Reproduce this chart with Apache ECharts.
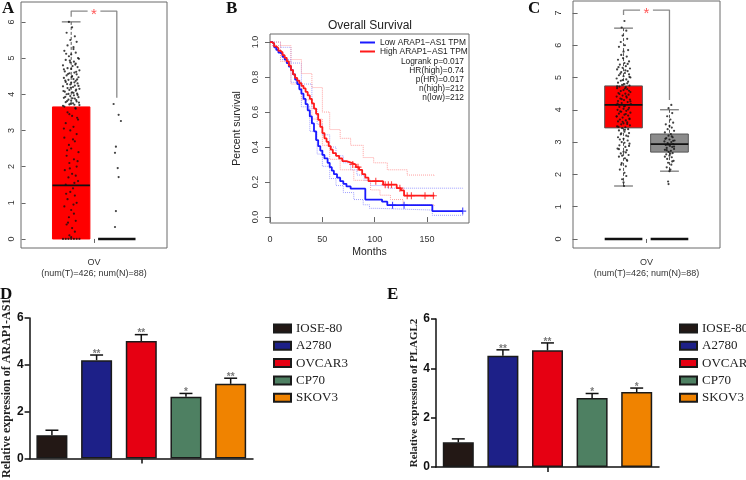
<!DOCTYPE html>
<html><head><meta charset="utf-8">
<script src="https://cdn.jsdelivr.net/npm/echarts@6/dist/echarts.min.js"></script>
<style>html,body{margin:0;padding:0;background:#fff}#c{width:746px;height:480px}</style>
</head><body><div id="c"></div>
<script>
// ---------------- Panel A data ----------------
const aGroups = [1, 2];
// [position, q1, median, q3, whiskerLow, whiskerHigh]
const aBoxes = [[1, 0, 1.48, 3.65, 0, 6.0], [2, 0, 0, 0, 0, 0]];
const aYTicks = [0, 1, 2, 3, 4, 5, 6];
// [jitter offset, value]
const aTumorPts = [[-0.05,6.0],[0.02,5.85],[-0.1,5.7],[0.08,5.6],[-0.02,5.5],[0.12,5.45],[-0.08,5.35],[0.05,5.3],[-0.15,5.2],[0.1,5.15],[0.0,5.1],[-0.05,5.05],[0.15,5.0],[-0.12,4.95],[0.06,4.9],[-0.02,4.88],[0.1,4.85],[-0.18,4.8],[0.03,4.78],[0.14,4.75],[-0.08,4.72],[0.0,4.7],[0.18,4.66],[-0.14,4.63],[0.07,4.6],[-0.04,4.58],[0.12,4.55],[-0.1,4.52],[0.02,4.5],[0.16,4.47],[-0.16,4.45],[0.05,4.42],[-0.06,4.4],[0.1,4.37],[-0.12,4.34],[0.0,4.32],[0.14,4.3],[-0.02,4.27],[0.08,4.24],[-0.18,4.22],[0.04,4.2],[-0.08,4.17],[0.18,4.15],[-0.04,4.12],[0.1,4.1],[-0.14,4.07],[0.02,4.05],[0.13,4.02],[-0.1,4.0],[0.06,3.97],[-0.02,3.95],[0.16,3.92],[-0.16,3.9],[0.08,3.88],[-0.06,3.85],[0.0,3.82],[0.12,3.8],[-0.12,3.78],[0.04,3.75],[-0.04,3.72],[0.18,3.7],[-0.18,3.68],
  [0.05,5.25],[-0.11,5.12],[0.17,4.98],[-0.03,4.93],[0.09,4.82],[-0.16,4.69],[0.11,4.62],[-0.07,4.56],[0.01,4.48],[0.13,4.41],[-0.13,4.38],[0.07,4.33],[-0.09,4.28],[0.16,4.23],[-0.01,4.18],[0.11,4.13],[-0.17,4.09],[0.05,4.04],[-0.06,4.01],[0.14,3.98],[-0.13,3.93],[0.03,3.89],[0.11,3.84],[-0.09,3.81],[0.17,3.77],[-0.01,3.74],[0.07,3.71],[-0.15,3.66],[0.09,3.62],
  [0.1,3.6],[-0.08,3.5],[0.02,3.4],[0.15,3.3],[-0.12,3.2],[0.05,3.1],[-0.02,3.0],[0.12,2.9],[-0.15,2.8],[0.08,2.7],[-0.05,2.6],[0.0,2.5],[0.16,2.4],[-0.1,2.3],[0.06,2.2],[-0.04,2.1],[0.12,2.0],[-0.14,1.9],[0.02,1.8],[0.1,1.75],[-0.06,1.7],[0.15,1.6],[-0.12,1.5],[0.04,1.4],[-0.02,1.3],[0.08,1.2],[-0.08,1.1],[0.12,1.0],[-0.15,0.9],[0.0,0.8],[0.06,0.7],[-0.05,0.6],[0.1,0.5],[-0.1,0.4],[0.02,0.3],[0.08,0.2],[-0.04,0.1],[0.0,0.05],
  [-0.04,3.45],[0.13,3.35],[-0.16,3.05],[0.04,2.75],[-0.09,2.45],[0.14,2.15],[-0.03,1.95],[0.07,1.55],[-0.11,1.25],[0.05,0.95],[-0.07,0.45],
  [-0.18,0],[-0.12,0],[-0.06,0],[0,0],[0.06,0],[0.12,0],[0.18,0]];
const aNormalPts = [[-0.07,3.73],[0.04,3.43],[0.09,3.26],[-0.02,2.55],[-0.04,2.38],[0.02,1.96],[0.04,1.71],[-0.02,0.77],[-0.04,0.33]];
const aBracketL = [[1,6.14],[1,6.3],[1.36,6.3]];
const aBracketR = [[1.64,6.3],[2,6.3],[2,3.9]];
const aStar = [[1.5,6.3]];
const boxXLabel = 'OV\n(num(T)=426; num(N)=88)';

// ---------------- Panel B data ----------------
const bMonthTicks = [0, 50, 100, 150];
const bSurvTicks = [0, 0.2, 0.4, 0.6, 0.8, 1.0];
const bLegendNames = ['Low ARAP1\u2212AS1 TPM', 'High ARAP1\u2212AS1 TPM'];
const bStats = ['Logrank p=0.017', 'HR(high)=0.74', 'p(HR)=0.017', 'n(high)=212', 'n(low)=212'];
const bHigh = [[0,1],[2,0.99],[4,0.975],[6,0.965],[8,0.95],[10,0.94],[12,0.925],[14,0.91],[16,0.89],[18,0.865],[20,0.84],[22,0.815],[24,0.795],[26,0.78],[28,0.765],[30,0.75],[32,0.735],[34,0.715],[36,0.695],[38,0.675],[40,0.65],[42,0.62],[44,0.59],[46,0.555],[48,0.515],[50,0.48],[52,0.45],[54,0.43],[56,0.405],[58,0.385],[60,0.365],[63,0.35],[66,0.335],[69,0.32],[73,0.31],[78,0.3],[82,0.285],[85,0.27],[88,0.245],[91,0.225],[94,0.205],[108,0.185],[121,0.165],[125,0.152],[128,0.122],[157,0.122]];
const bLow = [[0,1],[2,0.99],[4,0.97],[6,0.955],[8,0.94],[10,0.93],[12,0.915],[14,0.9],[16,0.88],[18,0.86],[20,0.84],[22,0.815],[24,0.785],[26,0.76],[28,0.73],[30,0.705],[32,0.675],[34,0.645],[36,0.61],[38,0.575],[40,0.535],[42,0.49],[44,0.44],[46,0.405],[48,0.38],[50,0.355],[52,0.335],[55,0.31],[57,0.285],[59,0.265],[61,0.245],[64,0.225],[67,0.205],[70,0.19],[73,0.175],[77,0.162],[91,0.1],[107,0.088],[112,0.068],[155,0.034],[184,0.034]];
const bHighUp = [[0,1],[10,0.98],[20,0.9],[30,0.82],[40,0.74],[50,0.6],[57,0.5],[67,0.45],[77,0.41],[89,0.34],[99,0.31],[112,0.27],[131,0.24],[157,0.235]];
const bHighLo = [[0,0.98],[10,0.89],[20,0.76],[30,0.67],[40,0.56],[50,0.41],[57,0.33],[67,0.27],[80,0.21],[96,0.155],[105,0.125],[115,0.1],[127,0.07],[157,0.065]];
const bLowUp = [[0,1],[10,0.97],[20,0.88],[30,0.76],[40,0.62],[45,0.53],[50,0.47],[57,0.4],[63,0.35],[70,0.31],[77,0.27],[83,0.24],[90,0.21],[96,0.18],[112,0.165],[184,0.16]];
const bLowLo = [[0,0.98],[10,0.9],[20,0.77],[30,0.63],[38,0.49],[45,0.36],[50,0.29],[57,0.22],[63,0.18],[70,0.14],[80,0.1],[89,0.07],[95,0.05],[102,0.04],[155,0.01],[184,0.003]];
const bHighCens = [[79,0.3],[84,0.285],[101,0.205],[110,0.185],[113,0.185],[116,0.185],[124,0.165],[131,0.122],[135,0.122],[148,0.122],[156,0.122]];
const bLowCens = [[117,0.068],[128,0.068],[184,0.034]];

// ---------------- Panel C data ----------------
const cBoxes = [[1, 3.44, 4.15, 4.74, 1.64, 6.53], [2, 2.69, 2.94, 3.25, 2.1, 4.0]];
const cYTicks = [0, 1, 2, 3, 4, 5, 6, 7];
const cZero = [[1, 0], [2, 0]];
const cTumorPts = [[0.02,6.75],[-0.04,6.55],[0.06,6.45],[-0.02,6.3],[0.08,6.2],[-0.06,6.1],[0.03,6.0],[-0.1,5.95],[0.1,5.85],[0.0,5.8],[-0.05,5.7],[0.07,5.65],[-0.12,5.55],[0.12,5.5],[0.02,5.45],[-0.08,5.4],[0.05,5.35],[-0.02,5.3],[0.14,5.28],[-0.14,5.25],[0.09,5.2],[-0.05,5.17],[0.03,5.14],[0.12,5.1],[-0.1,5.07],[0.0,5.04],[0.15,5.0],[-0.15,4.97],[0.06,4.94],[-0.06,4.9],[0.1,4.87],[-0.12,4.84],[0.02,4.8],[-0.03,4.77],[0.13,4.75],[-0.09,4.72],[0.05,4.7],[-0.14,4.67],[0.08,4.64],[0.0,4.61],[-0.06,4.58],[0.15,4.55],[-0.11,4.52],[0.04,4.5],[0.11,4.47],[-0.02,4.44],[-0.15,4.41],[0.07,4.38],[-0.07,4.35],[0.14,4.32],[0.01,4.3],[-0.12,4.27],[0.09,4.24],[-0.04,4.21],[0.16,4.18],[-0.16,4.15],[0.03,4.12],[-0.09,4.09],[0.12,4.06],[0.0,4.03],[-0.13,4.0],[0.06,3.97],[-0.05,3.94],[0.15,3.91],[-0.1,3.88],[0.02,3.85],[0.1,3.82],[-0.15,3.79],[-0.02,3.76],[0.13,3.73],[-0.08,3.7],[0.05,3.67],[-0.12,3.64],[0.08,3.61],[0.0,3.58],[-0.05,3.55],[0.14,3.52],[-0.14,3.49],[0.04,3.46],[-0.03,3.43],[0.1,3.4],[-0.1,3.36],[0.02,3.32],[0.12,3.28],[-0.06,3.24],[0.06,3.2],[-0.12,3.15],[0.0,3.1],[0.09,3.05],[-0.04,3.0],[0.13,2.95],[-0.09,2.9],[0.04,2.85],[-0.13,2.8],[0.07,2.75],[0.0,2.7],[-0.06,2.65],[0.11,2.6],[-0.1,2.55],[0.03,2.5],[0.08,2.42],[-0.04,2.35],[0.05,2.25],[-0.08,2.15],[0.02,2.05],[0.06,1.95],[-0.03,1.85],[0.0,1.75],[0.01,1.64],
  [-0.01,5.6],[0.09,5.42],[-0.11,5.32],[0.04,5.22],[-0.07,5.12],[0.13,5.02],[-0.02,4.92],[0.08,4.82],[-0.14,4.73],[0.03,4.66],[0.12,4.59],[-0.09,4.49],[0.06,4.42],[-0.04,4.33],[0.15,4.26],[-0.13,4.19],[0.01,4.1],[0.1,4.01],[-0.07,3.95],[0.05,3.87],[-0.15,3.8],[0.13,3.71],[-0.02,3.63],[0.08,3.56],[-0.11,3.47],[0.03,3.38],[-0.05,3.27],[0.1,3.18],[-0.08,3.08],[0.02,2.98],[0.12,2.88],[-0.1,2.78],[0.05,2.68],[-0.03,2.58],[0.07,2.45],[-0.05,2.3]];
const cNormalPts = [[0.04,4.15],[-0.02,4.05],[0.06,3.9],[-0.05,3.8],[0.02,3.7],[0.08,3.6],[-0.08,3.55],[0.0,3.5],[0.05,3.45],[-0.04,3.4],[0.1,3.35],[-0.1,3.3],[0.03,3.25],[-0.02,3.2],[0.07,3.15],[-0.07,3.12],[0.0,3.08],[0.11,3.05],[-0.11,3.02],[0.04,3.0],[-0.04,2.97],[0.08,2.94],[-0.08,2.91],[0.01,2.88],[0.06,2.85],[-0.06,2.82],[0.1,2.79],[-0.1,2.76],[0.03,2.73],[-0.02,2.7],[0.07,2.66],[-0.07,2.62],[0.0,2.58],[0.05,2.53],[-0.05,2.48],[0.09,2.42],[-0.03,2.36],[0.04,2.3],[-0.06,2.22],[0.02,2.15],[0.0,2.1],[-0.03,1.78],[-0.02,1.7],
  [0.05,3.18],[-0.09,3.1],[0.08,3.04],[-0.03,2.92],[0.1,2.86],[-0.06,2.75],[0.02,2.64],[-0.1,2.55],[0.06,2.4]];
const cBracketL = [[1,6.94],[1,7.09],[1.36,7.09]];
const cBracketR = [[1.64,7.09],[2,7.09],[2,4.3]];
const cStar = [[1.5,7.09]];

// ---------------- Panels D / E data ----------------
const cellLines = ['IOSE-80', 'A2780', 'OVCAR3', 'CP70', 'SKOV3'];
const cellColors = ['#231815', '#1d2088', '#e60012', '#4e8062', '#f08300'];
const barTicks = [0, 2, 4, 6];
const dMeans = [1.0, 4.2, 5.02, 2.64, 3.19];
const dUpper = [1.21, 4.42, 5.29, 2.78, 3.43];
const dStars = ['', '**', '**', '*', '**'];
const eMeans = [1.0, 4.51, 4.73, 2.8, 3.04];
const eUpper = [1.14, 4.75, 5.03, 2.98, 3.2];
const eStars = ['', '**', '**', '*', '*'];

// ---------------- helpers ----------------
const SANS = 'Liberation Sans';
const SERIF = 'Liberation Serif';
const plusPath = 'path://M-0.8,-5L0.8,-5L0.8,-0.8L5,-0.8L5,0.8L0.8,0.8L0.8,5L-0.8,5L-0.8,0.8L-5,0.8L-5,-0.8L-0.8,-0.8Z';

function boxRender(fills, strokes) {
  return function (params, api) {
    const x = api.value(0), q1 = api.value(1), med = api.value(2), q3 = api.value(3), lo = api.value(4), hi = api.value(5);
    const w = api.size([0.82, 0])[0];
    const pQ3 = api.coord([x, q3]), pQ1 = api.coord([x, q1]), pMed = api.coord([x, med]);
    const pLo = api.coord([x, lo]), pHi = api.coord([x, hi]);
    const cx = pQ3[0];
    const ch = [];
    if (hi > q3) {
      ch.push({type: 'line', shape: {x1: cx, y1: pHi[1], x2: cx, y2: pQ3[1]}, style: {stroke: '#555', lineWidth: 1, lineDash: [3, 2]}});
      ch.push({type: 'line', shape: {x1: cx - w / 4, y1: pHi[1], x2: cx + w / 4, y2: pHi[1]}, style: {stroke: '#555', lineWidth: 1}});
    }
    if (lo < q1) {
      ch.push({type: 'line', shape: {x1: cx, y1: pQ1[1], x2: cx, y2: pLo[1]}, style: {stroke: '#555', lineWidth: 1, lineDash: [3, 2]}});
      ch.push({type: 'line', shape: {x1: cx - w / 4, y1: pLo[1], x2: cx + w / 4, y2: pLo[1]}, style: {stroke: '#555', lineWidth: 1}});
    }
    if (q3 > q1) {
      ch.push({type: 'rect', shape: {x: cx - w / 2, y: pQ3[1], width: w, height: pQ1[1] - pQ3[1]},
        style: {fill: fills[params.dataIndex], stroke: strokes[params.dataIndex], lineWidth: 1}});
    }
    ch.push({type: 'line', shape: {x1: cx - w / 2, y1: pMed[1], x2: cx + w / 2, y2: pMed[1]}, style: {stroke: '#111', lineWidth: q3 > q1 ? 1.8 : 2.5}});
    return {type: 'group', children: ch};
  };
}
function zeroRender(params, api) {
  const w = api.size([0.82, 0])[0];
  const p = api.coord([api.value(0), api.value(1)]);
  return {type: 'line', shape: {x1: p[0] - w / 2, y1: p[1], x2: p[0] + w / 2, y2: p[1]}, style: {stroke: '#111', lineWidth: 2.5}};
}
function errRender(stars) {
  return function (params, api) {
    const i = api.value(0), m = api.value(1), u = api.value(2);
    const pM = api.coord([i, m]), pU = api.coord([i, u]);
    const cap = api.size([1, 0])[0] * 0.29;
    return {type: 'group', children: [
      {type: 'line', shape: {x1: pM[0], y1: pM[1], x2: pU[0], y2: pU[1]}, style: {stroke: '#111', lineWidth: 1.5}},
      {type: 'line', shape: {x1: pU[0] - cap / 2, y1: pU[1], x2: pU[0] + cap / 2, y2: pU[1]}, style: {stroke: '#111', lineWidth: 1.5}},
      {type: 'text', style: {text: stars[params.dataIndex], x: pU[0], y: pU[1] + 4, align: 'center', verticalAlign: 'bottom', fill: '#7a7a7a', font: 'bold 10px ' + SANS}}
    ]};
  };
}
function jitter(pts, g) { return pts.map(p => [g + p[0], p[1]]); }

const boxYAxisBase = (gi, min, max, ticks, margin, tickLen) => ({
  type: 'value', gridIndex: gi, min: min, max: max,
  axisLine: {show: false}, splitLine: {show: false},
  axisTick: {show: true, length: tickLen, customValues: ticks, lineStyle: {color: '#666'}},
  axisLabel: {customValues: ticks, rotate: 90, margin: margin, fontFamily: SANS, fontSize: 9, color: '#333'}
});
const boxXAxisBase = (gi) => ({
  type: 'value', gridIndex: gi, min: -0.1, max: 3.1,
  axisLine: {show: false}, splitLine: {show: false},
  axisTick: {show: true, length: 4, customValues: [1.5], lineStyle: {color: '#666'}},
  axisLabel: {customValues: [1.5], formatter: () => boxXLabel, margin: 9, fontFamily: SANS, fontSize: 9, lineHeight: 11, color: '#333'}
});
const barYAxis = (gi, name, nameGap, nameSize) => ({
  type: 'value', gridIndex: gi, min: 0, max: 6, interval: 2,
  name: name, nameLocation: 'middle', nameGap: nameGap,
  nameTextStyle: {fontFamily: SERIF, fontWeight: 'bold', fontSize: nameSize, color: '#222'},
  axisLine: {show: true, lineStyle: {color: '#111', width: 1.5}},
  axisTick: {show: true, length: 5, lineStyle: {color: '#111', width: 1.5}},
  axisLabel: {margin: 6, fontFamily: SANS, fontWeight: 'bold', fontSize: 12, color: '#111'},
  splitLine: {show: false}
});
const barXAxis = (gi) => ({
  type: 'category', gridIndex: gi, position: 'bottom', data: cellLines,
  axisLine: {show: true, lineStyle: {color: '#111', width: 1.5}},
  axisTick: {show: false}, axisLabel: {show: false}
});
const barXAxisTick = (gi) => ({
  type: 'category', gridIndex: gi, position: 'bottom', data: [''],
  axisLine: {show: false}, axisLabel: {show: false},
  axisTick: {show: true, alignWithLabel: true, length: 5, lineStyle: {color: '#111', width: 1.5}}
});
function barSeries(means, xi, yi) {
  return cellLines.map((name, i) => ({
    type: 'bar', name: name, xAxisIndex: xi, yAxisIndex: yi,
    barWidth: 31, barGap: '-100%',
    data: cellLines.map((_, j) => j === i ? means[i] : '-'),
    itemStyle: {color: cellColors[i], borderColor: '#1a1a1a', borderWidth: 1.5},
    z: 2
  }));
}
function barLegend(left) {
  return {
    data: cellLines, left: left, top: 317, orient: 'vertical', icon: 'rect',
    itemWidth: 17, itemHeight: 8, itemGap: 4.3, selectedMode: false,
    textStyle: {fontFamily: SERIF, fontSize: 13, color: '#222', lineHeight: 12}
  };
}
const starLabel = {show: true, formatter: '*', position: 'inside', color: '#ff2a2a', fontSize: 15, fontFamily: SANS, offset: [0, 4]};
const bracketStyle = {color: '#8a8a8a', width: 1.3};

const option = {
  animation: false,
  backgroundColor: '#fff',
  grid: [
    {left: 21, top: 2, width: 146, height: 246, show: true, borderColor: '#6a6a6a', borderWidth: 1, backgroundColor: 'transparent'},
    {left: 270, top: 34, width: 199, height: 189, show: true, borderColor: '#6a6a6a', borderWidth: 1, backgroundColor: 'transparent'},
    {left: 573, top: 1, width: 147, height: 247, show: true, borderColor: '#6a6a6a', borderWidth: 1, backgroundColor: 'transparent'},
    {left: 29, top: 318, width: 224, height: 149},
    {left: 436, top: 319, width: 223, height: 148}
  ],
  xAxis: [
    boxXAxisBase(0),
    {type: 'value', gridIndex: 1, min: 0, max: 190,
      name: 'Months', nameLocation: 'middle', nameGap: 24, nameTextStyle: {fontFamily: SANS, fontSize: 10.5, color: '#222'},
      axisLine: {show: false}, splitLine: {show: false},
      axisTick: {show: true, length: 5, customValues: bMonthTicks, lineStyle: {color: '#666'}},
      axisLabel: {customValues: bMonthTicks, margin: 12, fontFamily: SANS, fontSize: 9, color: '#333'}},
    boxXAxisBase(2),
    barXAxis(3), barXAxisTick(3),
    barXAxis(4), barXAxisTick(4)
  ],
  yAxis: [
    boxYAxisBase(0, -0.25, 6.55, aYTicks, 5, 4),
    {type: 'value', gridIndex: 1, min: -0.034, max: 1.046,
      name: 'Percent survival', nameLocation: 'middle', nameGap: 27, nameTextStyle: {fontFamily: SANS, fontSize: 10.5, color: '#222'},
      axisLine: {show: false}, splitLine: {show: false},
      axisTick: {show: true, length: 5, customValues: bSurvTicks, lineStyle: {color: '#666'}},
      axisLabel: {customValues: bSurvTicks, rotate: 90, margin: 10, formatter: v => v.toFixed(1), fontFamily: SANS, fontSize: 9, color: '#333'}},
    boxYAxisBase(2, -0.28, 7.37, cYTicks, 10, 5),
    barYAxis(3, 'Relative expression of ARAP1-AS1', 16, 12),
    barYAxis(4, 'Relative expression of PLAGL2', 16, 11)
  ],
  legend: [
    barLegend(268),
    barLegend(674),
    {data: bLegendNames, left: 360, top: 38, padding: 0, orient: 'vertical', icon: 'rect', itemWidth: 15, itemHeight: 2, itemGap: 0,
      selectedMode: false, textStyle: {fontFamily: SANS, fontSize: 8.4, color: '#222', lineHeight: 9}}
  ],
  graphic: [
    {type: 'text', left: 2, top: 0, style: {text: 'A', font: 'bold 17px ' + SERIF, fill: '#111'}},
    {type: 'text', left: 226, top: 0, style: {text: 'B', font: 'bold 17px ' + SERIF, fill: '#111'}},
    {type: 'text', left: 528, top: 0, style: {text: 'C', font: 'bold 17px ' + SERIF, fill: '#111'}},
    {type: 'text', left: 0, top: 286, style: {text: 'D', font: 'bold 17px ' + SERIF, fill: '#111'}},
    {type: 'text', left: 387, top: 286, style: {text: 'E', font: 'bold 17px ' + SERIF, fill: '#111'}},
    {type: 'text', x: 370, y: 26, style: {text: 'Overall Survival', font: '12px ' + SANS, fill: '#222', align: 'center', verticalAlign: 'middle'}},
    {type: 'text', x: 464, y: 57.5, style: {text: bStats.join('\n'), font: '8.4px ' + SANS, lineHeight: 9, fill: '#222', align: 'right', verticalAlign: 'top'}}
  ],
  series: [
    // Panel A
    {type: 'custom', xAxisIndex: 0, yAxisIndex: 0, renderItem: boxRender(['#ff0000', '#fff'], ['#ff0000', '#111']), data: aBoxes, z: 1},
    {type: 'scatter', xAxisIndex: 0, yAxisIndex: 0, symbolSize: 2.2, itemStyle: {color: '#111'}, data: jitter(aTumorPts, aGroups[0]), z: 3},
    {type: 'scatter', xAxisIndex: 0, yAxisIndex: 0, symbolSize: 2.2, itemStyle: {color: '#111'}, data: jitter(aNormalPts, aGroups[1]), z: 3},
    {type: 'line', xAxisIndex: 0, yAxisIndex: 0, symbol: 'none', lineStyle: bracketStyle, data: aBracketL},
    {type: 'line', xAxisIndex: 0, yAxisIndex: 0, symbol: 'none', lineStyle: bracketStyle, data: aBracketR},
    {type: 'scatter', xAxisIndex: 0, yAxisIndex: 0, symbolSize: 0, label: starLabel, data: aStar},
    // Panel B
    {type: 'line', name: 'bLowUp', xAxisIndex: 1, yAxisIndex: 1, step: 'end', symbol: 'none', lineStyle: {color: '#a0a0ff', width: 1, type: 'dotted'}, data: bLowUp},
    {type: 'line', name: 'bLowLo', xAxisIndex: 1, yAxisIndex: 1, step: 'end', symbol: 'none', lineStyle: {color: '#a0a0ff', width: 1, type: 'dotted'}, data: bLowLo},
    {type: 'line', name: 'bHighUp', xAxisIndex: 1, yAxisIndex: 1, step: 'end', symbol: 'none', lineStyle: {color: '#ffa0a0', width: 1, type: 'dotted'}, data: bHighUp},
    {type: 'line', name: 'bHighLo', xAxisIndex: 1, yAxisIndex: 1, step: 'end', symbol: 'none', lineStyle: {color: '#ffa0a0', width: 1, type: 'dotted'}, data: bHighLo},
    {type: 'line', name: bLegendNames[0], xAxisIndex: 1, yAxisIndex: 1, step: 'end', symbol: 'none', color: '#1a1aff', lineStyle: {color: '#1a1aff', width: 1.8}, data: bLow, z: 4},
    {type: 'line', name: bLegendNames[1], xAxisIndex: 1, yAxisIndex: 1, step: 'end', symbol: 'none', color: '#ff1a1a', lineStyle: {color: '#ff1a1a', width: 1.8}, data: bHigh, z: 4},
    {type: 'scatter', xAxisIndex: 1, yAxisIndex: 1, symbol: plusPath, symbolSize: 7, itemStyle: {color: '#1a1aff'}, data: bLowCens, z: 5},
    {type: 'scatter', xAxisIndex: 1, yAxisIndex: 1, symbol: plusPath, symbolSize: 7, itemStyle: {color: '#ff1a1a'}, data: bHighCens, z: 5},
    // Panel C
    {type: 'custom', xAxisIndex: 2, yAxisIndex: 2, renderItem: boxRender(['#ff0000', '#8c8c8c'], ['#555', '#555']), data: cBoxes, z: 1},
    {type: 'custom', xAxisIndex: 2, yAxisIndex: 2, renderItem: zeroRender, data: cZero, z: 2},
    {type: 'scatter', xAxisIndex: 2, yAxisIndex: 2, symbolSize: 2.2, itemStyle: {color: '#111'}, data: jitter(cTumorPts, 1), z: 3},
    {type: 'scatter', xAxisIndex: 2, yAxisIndex: 2, symbolSize: 2.2, itemStyle: {color: '#111'}, data: jitter(cNormalPts, 2), z: 3},
    {type: 'line', xAxisIndex: 2, yAxisIndex: 2, symbol: 'none', lineStyle: bracketStyle, data: cBracketL},
    {type: 'line', xAxisIndex: 2, yAxisIndex: 2, symbol: 'none', lineStyle: bracketStyle, data: cBracketR},
    {type: 'scatter', xAxisIndex: 2, yAxisIndex: 2, symbolSize: 0, label: starLabel, data: cStar},
    // Panel D
    ...barSeries(dMeans, 3, 3),
    {type: 'custom', xAxisIndex: 3, yAxisIndex: 3, renderItem: errRender(dStars), data: cellLines.map((_, i) => [i, dMeans[i], dUpper[i]]), z: 3},
    // Panel E
    ...barSeries(eMeans, 5, 4),
    {type: 'custom', xAxisIndex: 5, yAxisIndex: 4, renderItem: errRender(eStars), data: cellLines.map((_, i) => [i, eMeans[i], eUpper[i]]), z: 3}
  ]
};
const chart = echarts.init(document.getElementById('c'), null, {renderer: 'canvas'});
chart.setOption(option);
</script></body></html>
